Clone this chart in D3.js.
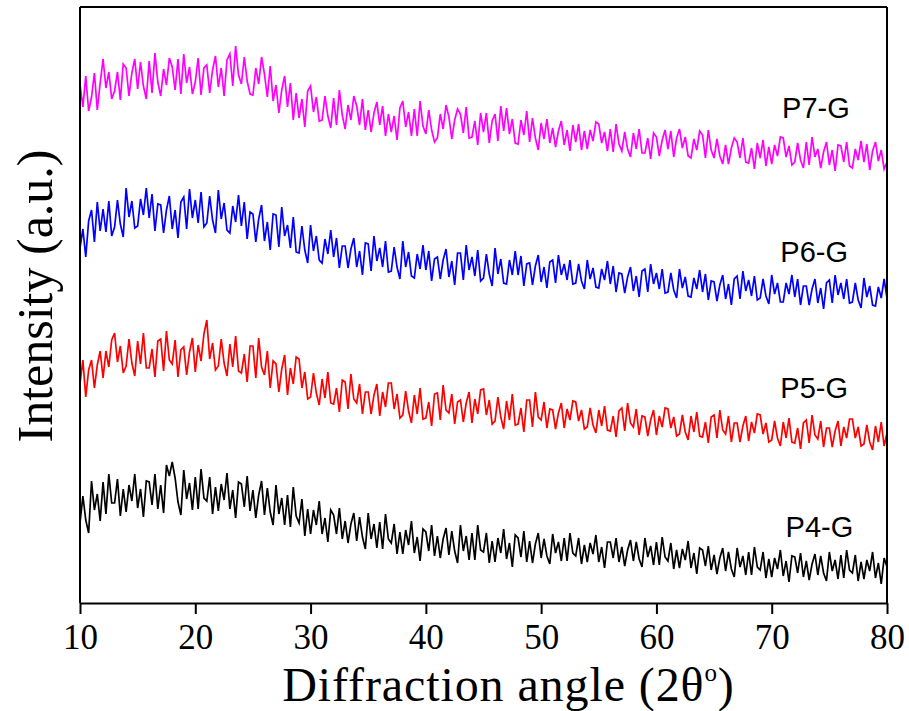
<!DOCTYPE html>
<html>
<head>
<meta charset="utf-8">
<script src="https://cdn.jsdelivr.net/npm/d3@7"></script>
<style>
  html, body { margin: 0; padding: 0; background: #fff; }
  svg { display: block; }
</style>
</head>
<body>
<div id="chart"></div>
<script>
// XRD patterns of the P-G glasses, stacked (intensity in arbitrary units, offset per sample)
const angleStart = 10, angleStep = 0.25;

const seriesNames = ["P7-G", "P6-G", "P5-G", "P4-G"];
const seriesColors = ["#ff00ff", "#0000ff", "#ff0000", "#000000"];
const xTicks = [10, 20, 30, 40, 50, 60, 70, 80];

const p7G = [
  519,496,527,492, 506,530,493,520, 544,515,531,504, 512,531,503,539, 535,507,530,544,
  514,541,517,504, 542,510,550,521, 507,534,518,545, 536,513,544,509, 549,520,536,509,
  521,545,508,535, 538,510,533,547, 516,535,507,543, 549,517,557,528, 519,546,522,509,
  508,535,519,546, 529,506,537,502, 518,490,513,527, 496,520,483,510, 485,504,476,512,
  517,491,506,482, 483,507,487,475, 505,478,513,488, 474,498,483,507, 497,478,504,473,
  493,471,490,501, 478,497,467,489, 471,487,463,495, 502,476,491,467, 494,467,502,477,
  469,493,473,461, 465,489,474,498, 486,464,483,494, 489,470,496,465, 466,482,458,490,
  471,490,460,482, 489,462,497,472, 495,469,484,460, 459,483,468,492, 461,485,465,453,
  480,464,484,460, 475,456,472,482, 458,473,452,478, 461,479,453,472, 454,473,462,481,
  479,460,471,452, 474,451,479,459, 452,471,454,446, 470,454,474,450, 450,465,444,470,
  466,447,463,473, 454,472,446,465, 474,455,466,447, 445,464,453,472, 468,445,473,453,
  445,464,447,439, 458,439,455,465, 461,445,465,441, 440,455,434,460, 445,463,437,456,
  439,458,447,466, 465,446,457,438, 441,460,443,435, 461,438,466,446, 454,435,451,461,
  438,453,432,458, 457,441,461,437, 435,454,443,462, 441,459,433,452, 461,442,453,434,
  441
];

const p6G = [
  355,374,346,382, 393,361,401,372, 394,371,402,367, 376,403,379,366, 415,386,402,375,
  377,404,388,415, 385,409,372,399, 398,370,393,407, 374,393,365,401, 406,374,414,385,
  403,380,411,376, 380,407,383,370, 413,384,400,373, 370,397,381,408, 377,401,364,391,
  389,361,384,398, 362,381,353,389, 388,356,396,367, 378,355,386,351, 350,377,353,340,
  378,352,367,343, 340,364,349,373, 346,365,335,357, 357,335,354,365, 336,352,328,360,
  359,332,367,342, 355,336,362,331, 332,356,336,324, 362,336,351,327, 325,349,334,358,
  333,352,322,344, 346,324,343,354, 326,342,318,350, 350,323,358,333, 346,327,353,322,
  325,349,329,317, 355,329,344,320, 319,343,328,352, 328,347,317,339, 340,318,337,348,
  321,336,315,341, 343,320,348,328, 339,323,343,319, 320,339,322,314, 343,324,335,316,
  315,334,323,342, 319,337,311,330, 329,310,326,336, 312,327,306,332, 334,311,339,319,
  330,314,334,310, 311,330,313,305, 334,315,326,307, 306,325,314,333, 311,329,303,322,
  321,302,318,328, 304,319,298,324, 327,304,332,312, 323,307,327,303, 305,324,307,299,
  328,309,320,301, 301,320,309,328, 306,324,298,317, 317,298,314,324, 300,315,294,320,
  323,300,328,308, 320,304,324,300, 301,320,303,295, 325,306,317,298, 297,316,305,324,
  305
];

const p5G = [
  219,243,206,233, 243,215,238,252, 225,252,236,263, 270,241,257,230, 237,264,240,227,
  262,239,270,235, 235,254,226,262, 264,232,272,243, 239,263,226,253, 256,228,251,265,
  231,258,242,269, 283,244,260,233, 237,264,240,227, 259,236,267,232, 230,249,221,257,
  257,225,265,236, 228,252,215,242, 239,211,234,248, 208,235,219,246, 244,215,231,204,
  206,230,210,198, 224,205,231,200, 199,215,191,223, 221,194,229,204, 200,219,189,211,
  211,189,208,219, 187,211,196,220, 220,194,209,185, 188,212,192,180, 208,189,215,184,
  185,201,177,209, 210,183,218,193, 190,209,179,201, 203,181,200,211, 180,204,189,213,
  214,188,203,179, 182,206,186,174, 202,183,209,178, 179,195,171,203, 203,176,211,186,
  183,201,175,194, 193,174,190,200, 175,194,183,202, 201,182,193,174, 176,195,178,170,
  193,177,197,173, 172,187,166,192, 195,172,200,180, 176,194,168,187, 186,167,183,193,
  168,187,176,195, 194,175,186,167, 169,188,171,163, 187,171,191,167, 166,181,160,186,
  188,165,193,173, 169,187,161,180, 180,161,177,187, 162,181,170,189, 188,169,180,161,
  163,182,165,157, 181,165,185,161, 160,175,154,180, 183,160,188,168, 164,182,156,175,
  175,156,172,182, 157,176,165,184, 184,165,176,157, 159,178,161,153, 177,161,181,157,
  170
];

const p4G = [
  80,107,83,70, 122,93,109,82, 121,89,129,100, 100,124,87,114, 91,118,102,129,
  95,114,86,122, 121,98,129,94, 118,90,138,127, 141,125,101,88, 133,104,120,93,
  126,94,134,105, 102,126,89,116, 92,119,103,130, 94,113,85,121, 119,96,127,92,
  113,85,108,122, 88,115,91,78, 118,89,105,78, 108,76,116,87, 80,104,67,94,
  69,93,78,102, 69,85,61,93, 88,69,95,64, 82,60,79,90, 62,86,66,54,
  90,64,79,55, 81,54,89,64, 60,79,49,71, 49,73,58,82, 50,66,42,74,
  71,52,78,47, 67,45,64,75, 48,72,52,40, 78,52,67,43, 70,43,78,53,
  51,70,40,62, 41,65,50,74, 44,60,36,68, 65,46,72,41, 62,40,59,70,
  45,64,47,39, 69,50,61,42, 65,42,70,50, 47,65,39,58, 41,60,49,68,
  41,56,35,61, 61,45,65,41, 56,37,53,63, 42,61,44,36, 65,46,57,38,
  61,38,66,46, 42,60,34,53, 35,54,43,62, 35,50,29,55, 53,37,57,33,
  48,29,45,55, 32,51,34,26, 55,36,47,28, 51,28,56,36, 33,51,25,44,
  26,45,34,53, 27,42,21,47, 46,30,50,26, 42,23,39,49, 28,47,30,22,
  51,32,43,24, 48,25,53,33, 30,48,22,41, 24,43,32,51, 25,40,19,45,
  36
];

const seriesValues = [p7G, p6G, p5G, p4G];

// layout
const W = 909, H = 711;
const margin = { left: 80, right: 22, top: 7, bottom: 108 };
const innerW = W - margin.left - margin.right;   // 807
const innerH = H - margin.top - margin.bottom;   // 596

// label anchor points in data coordinates (angle, intensity)
const labelAnchors = [[70.9, 485], [70.75, 341], [70.75, 205], [71.2, 66]];

const svg = d3.select("#chart").append("svg")
  .attr("width", W).attr("height", H);

const g = svg.append("g").attr("transform", `translate(${margin.left},${margin.top})`);

const x = d3.scaleLinear().domain([10, 80]).range([0, innerW]);
const y = d3.scaleLinear().domain([0, 596]).range([innerH, 0]);

g.append("defs").append("clipPath").attr("id", "plotClip")
  .append("rect").attr("x", 0).attr("y", 0).attr("width", innerW).attr("height", innerH);

const line = d3.line()
  .x((d, i) => x(angleStart + i * angleStep))
  .y(d => y(d));

const traces = g.append("g").attr("clip-path", "url(#plotClip)");
seriesValues.forEach((vals, k) => {
  traces.append("path")
    .datum(vals)
    .attr("fill", "none")
    .attr("stroke", seriesColors[k])
    .attr("stroke-width", 1.7)
    .attr("stroke-linejoin", "miter")
    .attr("d", line);
});

// frame: top and right borders
g.append("line").attr("x1", 0).attr("x2", innerW).attr("y1", 0).attr("y2", 0)
  .attr("stroke", "#000").attr("stroke-width", 2);
g.append("line").attr("x1", innerW).attr("x2", innerW).attr("y1", 0).attr("y2", innerH)
  .attr("stroke", "#000").attr("stroke-width", 2);
// left axis (no ticks)
g.append("line").attr("x1", 0).attr("x2", 0).attr("y1", 0).attr("y2", innerH)
  .attr("stroke", "#000").attr("stroke-width", 2);

// bottom axis
const xAxis = g.append("g")
  .attr("transform", `translate(0,${innerH})`)
  .call(d3.axisBottom(x).tickValues(xTicks).tickSize(11).tickSizeOuter(0).tickFormat(d3.format("d")));
xAxis.select(".domain").attr("stroke", "#000").attr("stroke-width", 2);
xAxis.selectAll(".tick line").attr("stroke", "#000").attr("stroke-width", 2);
xAxis.selectAll(".tick text")
  .attr("y", 46).attr("dy", 0)
  .attr("fill", "#000")
  .style("font-family", "'Liberation Serif', 'Times New Roman', serif")
  .style("font-size", "35px");

// axis titles
const xTitle = svg.append("text")
  .attr("x", margin.left + innerW / 2 + 25)
  .attr("y", 701)
  .attr("text-anchor", "middle")
  .style("font-family", "'Liberation Serif', 'Times New Roman', serif")
  .style("font-size", "48px")
  .style("letter-spacing", "0.9px")
  .attr("fill", "#000");
xTitle.append("tspan").text("Diffraction angle (2θ");
xTitle.append("tspan").attr("dy", -20).style("font-size", "25px").text("o");
xTitle.append("tspan").attr("dy", 20).text(")");

svg.append("text")
  .attr("transform", `translate(52,${296}) rotate(-90)`)
  .attr("text-anchor", "middle")
  .style("font-family", "'Liberation Serif', 'Times New Roman', serif")
  .style("font-size", "50px")
  .attr("fill", "#000")
  .text("Intensity (a.u.)");

// sample labels
seriesNames.forEach((name, k) => {
  g.append("text")
    .attr("x", x(labelAnchors[k][0]))
    .attr("y", y(labelAnchors[k][1]))
    .style("font-family", "'Liberation Sans', Arial, sans-serif")
    .style("font-size", "29px")
    .attr("fill", "#000")
    .text(name);
});
</script>
</body>
</html>
